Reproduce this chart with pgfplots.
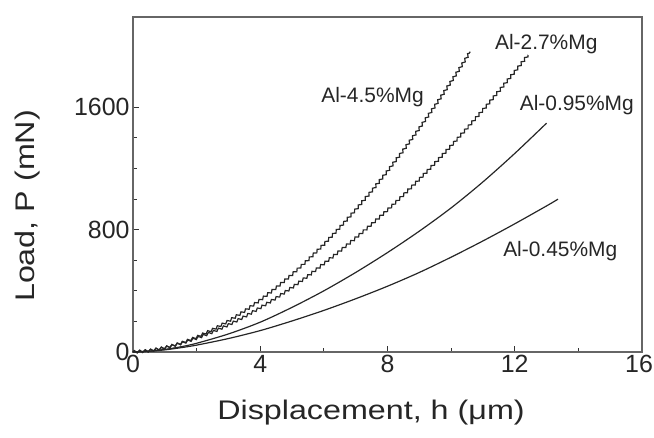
\documentclass[border=0pt]{standalone}
\usepackage{fontspec}
\setmainfont{Liberation Sans}[FakeStretch=1.2]
\newfontfamily\tickfont{Liberation Sans}
\newfontfamily\labelfont{Liberation Sans}
\usepackage{pgfplots}
\pgfplotsset{compat=1.18}
\usetikzlibrary{decorations.pathmorphing}
\begin{document}
\begin{tikzpicture}
\begin{axis}[
  scale only axis,
  width=509bp, height=335bp,
  xmin=0, xmax=16, ymin=0, ymax=2190,
  xtick={0,4,8,12,16}, minor x tick num=1,
  xticklabels={0,4,8,12,{\hspace*{-6bp}16}},
  ytick={0,800,1600}, minor y tick num=3,
  tick align=inside,
  xtick pos=left, ytick pos=left,
  major tick length=6bp, minor tick length=4bp,
  every tick/.style={line width=1bp, black!80},
  axis line style={line width=1.6bp, black!60},
  /pgf/number format/assume math mode=true,
  /pgf/number format/1000 sep={},
  ticklabel style={font=\tickfont\fontsize{25}{25}\selectfont, text=black!85},
  xlabel={Displacement, h (μm)},
  ylabel={Load, P (mN)},
  label style={font=\fontsize{27}{27}\selectfont, text=black!85},
  xlabel style={at={(axis description cs:0.4676,-0.182)}, anchor=center},
  ylabel style={at={(axis description cs:-0.208,0.436)}, anchor=center},
  clip=false,
]
% Al-4.5%Mg (serrated)
\addplot[line width=1.2bp, black!85, decorate,
  decoration={zigzag, segment length=5.5bp, amplitude=1.2bp}] coordinates {
  (0,0) (0.5,8) (1,28) (1.5,58) (2,97) (2.5,146) (3,202) (3.5,267) (4,340)
  (4.5,420) (5,507) (5.5,602) (6,704) (6.5,814) (7,930) (7.5,1052) (8,1182)
  (8.5,1319) (9,1462) (9.5,1611) (10,1767) (10.3,1863) (10.6,1963)};
% Al-2.7%Mg (serrated)
\addplot[line width=1.2bp, black!85, decorate,
  decoration={zigzag, segment length=5.5bp, amplitude=1.2bp}] coordinates {
  (0,0) (0.5,9) (1,28) (1.5,55) (2,90) (2.5,130) (3,177) (3.5,230) (4,290)
  (4.5,353) (5,422) (5.5,497) (6,578) (6.5,660) (7,745) (7.5,835) (8,928)
  (8.5,1026) (9,1129) (9.5,1236) (10,1348) (10.5,1463) (11,1582)
  (11.5,1705) (12,1832) (12.42,1942)};
% Al-0.95%Mg
\addplot[line width=1.2bp, black!85, smooth] coordinates {
  (0,0) (0.5,5) (1,17) (1.5,34) (2,57) (3,118) (4,195) (5,292) (6,400)
  (7,520) (8,650) (9,790) (10,942) (11,1112) (12,1298) (13,1496)};
% Al-0.45%Mg
\addplot[line width=1.2bp, black!85, smooth] coordinates {
  (0,0) (0.5,5) (1,14) (1.5,28) (2,45) (3,88) (4,140) (5,203) (6,272)
  (7,348) (8,430) (9,520) (10,620) (11,726) (12,838) (13,955) (13.36,999)};
\node[font=\labelfont\fontsize{21}{21}\selectfont, text=black!85] at (axis cs:7.53,1667) {Al-4.5\%Mg};
\node[font=\labelfont\fontsize{21}{21}\selectfont, text=black!85] at (axis cs:12.99,2013) {Al-2.7\%Mg};
\node[font=\labelfont\fontsize{21}{21}\selectfont, text=black!85] at (axis cs:13.95,1615) {Al-0.95\%Mg};
\node[font=\labelfont\fontsize{21}{21}\selectfont, text=black!85] at (axis cs:13.43,657) {Al-0.45\%Mg};
\end{axis}
\pgfresetboundingbox
\useasboundingbox (-133bp,-86bp) rectangle (521bp,352bp);
\end{tikzpicture}
\end{document}
